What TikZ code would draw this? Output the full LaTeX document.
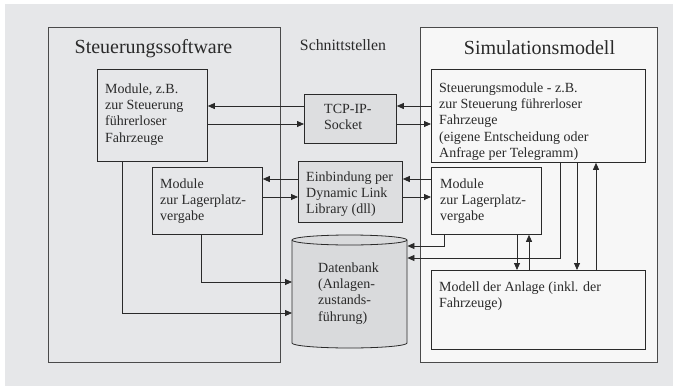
\documentclass[tikz,border=0pt]{standalone}
\usepackage{fontspec}
\setmainfont{Liberation Serif}
\usetikzlibrary{arrows.meta}
\definecolor{bg}{HTML}{E6E7E9}
\definecolor{simfill}{HTML}{F7F7F7}
\definecolor{ifill}{HTML}{DDDEE0}
\definecolor{dbfill}{HTML}{D9DADC}
\definecolor{ln}{HTML}{2A2A2A}
\definecolor{oln}{HTML}{4A4A4A}
\tikzset{
  outerbox/.style={draw=oln, line width=1.3pt, inner sep=0pt, anchor=north west},
  box/.style={draw=ln, line width=0.8pt, inner sep=0pt, anchor=north west},
  txt/.style={anchor=north west, inner sep=0pt, align=left, text=ln,
    font=\fontsize{14}{16.3}\selectfont},
  title/.style={anchor=base, inner sep=0pt, text=ln, font=\fontsize{20}{24}\selectfont},
  arr/.style={draw=ln, line width=0.8pt, -{Triangle[length=7pt,width=6pt]}},
}
\begin{document}
\begin{tikzpicture}[x=1pt,y=-1pt]
\useasboundingbox (0,0) rectangle (678,386);
\fill[white] (0,0) rectangle (678,386);
\fill[bg] (5,4) rectangle (673,386);

% outer boxes
\node[outerbox, fill=bg, minimum width=232, minimum height=335] (sw) at (48,27) {};
\node[outerbox, fill=simfill, minimum width=237, minimum height=335] (sim) at (420,27) {};

% titles
\node[title] (tsw) at (153.5,53) {Steuerungssoftware};
\node[title, font=\fontsize{15.8}{19}\selectfont] (tsch) at (343,50) {Schnittstellen};
\node[title] (tsim) at (539.5,54) {Simulationsmodell};

% left modules
\node[box, fill=bg, minimum width=110, minimum height=92] (msz) at (97,69) {};
\node[txt] (msztxt) at (105,81.6) {\strut Module, z.B.\\zur Steuerung\\führerloser\\Fahrzeuge};
\node[box, fill=bg, minimum width=110, minimum height=67] (mlL) at (152,167) {};
\node[txt] (mlLtxt) at (160,176.6) {\strut Module\\zur Lagerplatz-\\vergabe};

% interfaces
\node[box, fill=ifill, minimum width=92, minimum height=49] (tcp) at (304,94) {};
\node[txt] (tcptxt) at (324,101.6) {\strut TCP-IP-\\Socket};
\node[box, fill=ifill, minimum width=104, minimum height=61] (dll) at (298,161) {};
\node[txt] (dlltxt) at (306,169.6) {\strut Einbindung per\\Dynamic Link\\Library (dll)};

% database cylinder
\node[inner sep=0pt, minimum width=115, minimum height=113, anchor=north west] (db) at (292,235) {};
\draw[draw=ln, line width=0.8pt, fill=dbfill]
  (292,240) -- (292,343) arc[start angle=180, end angle=360, x radius=57.5pt, y radius=5pt]
  -- (407,240) arc[start angle=0, end angle=180, x radius=57.5pt, y radius=5pt] -- cycle;
\draw[draw=ln, line width=0.8pt] (292,240) arc[start angle=180, end angle=360, x radius=57.5pt, y radius=5pt];
\node[txt] (dbtxt) at (318,260.6) {\strut Datenbank\\(Anlagen-\\zustands-\\führung)};

% right modules
\node[box, fill=simfill, minimum width=214, minimum height=93] (smod) at (431,69) {};
\node[txt] (smodtxt) at (439,80.6) {\strut Steuerungsmodule - z.B.\\zur Steuerung führerloser\\Fahrzeuge\\(eigene Entscheidung oder\\Anfrage per Telegramm)};
\node[box, fill=simfill, minimum width=110, minimum height=67] (mlR) at (431,167) {};
\node[txt] (mlRtxt) at (440,176.6) {\strut Module\\zur Lagerplatz-\\vergabe};
\node[box, fill=simfill, minimum width=214, minimum height=79] (anl) at (431,270) {};
\node[txt] (anltxt) at (439,279.6) {\strut Modell der Anlage (inkl. der\\Fahrzeuge)};

% connectors: TCP
\draw[arr] (tcp.west |- 0,106) -- (msz.east |- 0,106);
\draw[arr] (msz.east |- 0,124) -- (tcp.west |- 0,124);
\draw[arr] (smod.west |- 0,106) -- (tcp.east |- 0,106);
\draw[arr] (tcp.east |- 0,124) -- (smod.west |- 0,124);
% connectors: DLL
\draw[arr] (dll.west |- 0,179) -- (mlL.east |- 0,179);
\draw[arr] (mlL.east |- 0,197) -- (dll.west |- 0,197);
\draw[arr] (mlR.west |- 0,179) -- (dll.east |- 0,179);
\draw[arr] (dll.east |- 0,197) -- (mlR.west |- 0,197);
% connectors: to database
\draw[arr] (mlL.south -| 201,0) |- (db.west |- 0,282);
\draw[arr] (msz.south -| 122,0) |- (db.west |- 0,313);
\draw[arr] (mlR.south -| 444,0) |- (db.east |- 0,246);
\draw[arr] (smod.south -| 560,0) |- (db.east |- 0,258);
% connectors: to/from plant model
\draw[arr] (mlR.south -| 517,0) -- (anl.north -| 517,0);
\draw[arr] (anl.north -| 529,0) -- (mlR.south -| 529,0);
\draw[arr] (smod.south -| 577,0) -- (anl.north -| 577,0);
\draw[arr] (anl.north -| 596,0) -- (smod.south -| 596,0);
\end{tikzpicture}
\end{document}
